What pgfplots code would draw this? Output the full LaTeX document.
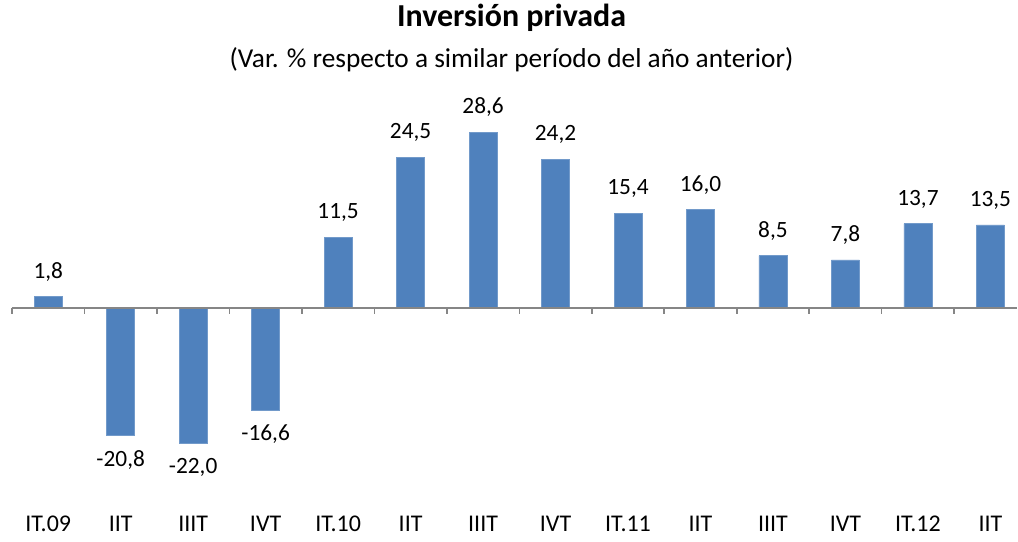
\documentclass[border=0pt]{standalone}
\usepackage{pgfplots}
\pgfplotsset{compat=1.18}
\usepackage{fontspec}
\setmainfont{Carlito}
\definecolor{barblue}{HTML}{4F81BD}
\definecolor{axgray}{HTML}{868686}
\begin{document}
\begin{tikzpicture}
\begin{axis}[
  scale only axis, width=754.5pt, height=290.6pt,
  xmin=-0.5, xmax=13.37, ymin=-33, ymax=30,
  clip=false,
  axis line style={draw=none},
  ytick=\empty,
  xtick={0,...,13},
  xticklabels={IT.09,IIT,IIIT,IVT,IT.10,IIT,IIIT,IVT,IT.11,IIT,IIIT,IVT,IT.12,IIT},
  major tick length=0pt,
  xticklabel style={font=\fontsize{18}{20}\selectfont, inner sep=0pt, anchor=base, yshift=-16pt},
  ybar, bar width=21pt,
  /pgf/number format/.cd, use comma, fixed, fixed zerofill, precision=1, assume math mode=true,
]
\addplot[fill=barblue, draw=barblue!80!white, bar shift=0pt,
  nodes near coords,
  every node near coord/.append style={font=\fontsize{17.5}{20}\selectfont, anchor=center, yshift=18.5pt, black}]
  coordinates {(0,1.8) (4,11.5) (5,24.5) (6,28.6) (7,24.2) (8,15.4) (9,16.0) (10,8.5) (11,7.8) (12,13.7) (13,13.5)};
\addplot[fill=barblue, draw=barblue!80!white, bar shift=0pt,
  nodes near coords,
  every node near coord/.append style={font=\fontsize{17.5}{20}\selectfont, anchor=center, yshift=-18.5pt, black}]
  coordinates {(1,-20.8) (2,-22.0) (3,-16.6)};
\draw[axgray, line width=1.2pt] (axis cs:-0.5,0) -- (axis cs:13.37,0);
\pgfplotsinvokeforeach{-0.5,0.5,...,12.5}{
  \draw[axgray, line width=1.2pt] (axis cs:#1,0) -- ++(0pt,-5pt);
}
\coordinate (ttl) at ([yshift=79pt]rel axis cs:0.497,1);
\coordinate (sub) at ([yshift=48pt]rel axis cs:0.497,1);
\path (rel axis cs:0,0) ++(-9pt,-23pt) coordinate (bl);
\path (rel axis cs:1,1) ++(0pt,92.6pt) coordinate (tr);
\path (bl) rectangle (tr);
\end{axis}
\node[font=\bfseries\fontsize{24}{28}\selectfont] at (ttl) {Inversión privada};
\node[font=\fontsize{20.5}{24}\selectfont] at (sub) {(Var. \% respecto a similar período del año anterior)};
\end{tikzpicture}
\end{document}
